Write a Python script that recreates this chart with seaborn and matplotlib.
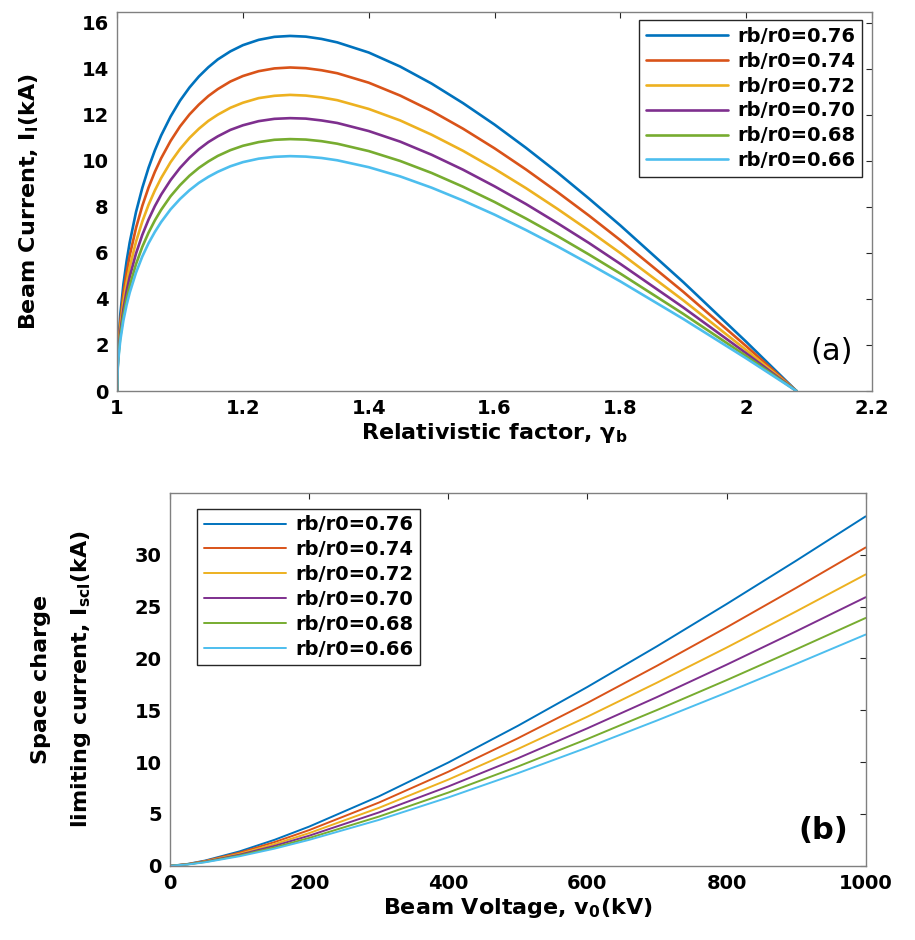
import matplotlib
matplotlib.use("Agg")
import matplotlib.pyplot as plt
import pandas as pd
import seaborn as sns

# ---------------- data ----------------
labels = ["rb/r0=0.76", "rb/r0=0.74", "rb/r0=0.72", "rb/r0=0.70", "rb/r0=0.68", "rb/r0=0.66"]
colors = ["#0072BD", "#D95319", "#EDB120", "#7E2F8E", "#77AC30", "#4DBEEE"]

# (a) beam current vs relativistic factor
gamma_b = [1.0, 1.001, 1.002, 1.005, 1.01, 1.015, 1.02, 1.03, 1.04, 1.05, 1.06, 1.07,
           1.085, 1.1, 1.115, 1.13, 1.145, 1.16, 1.18, 1.2, 1.225, 1.25, 1.275, 1.3,
           1.325, 1.35, 1.4, 1.45, 1.5, 1.55, 1.6, 1.65, 1.7, 1.75, 1.8, 1.9, 2.0, 2.08]
I_076 = [0, 1.49, 2.10, 3.31, 4.64, 5.63, 6.45, 7.77, 8.82, 9.70, 10.45, 11.10,
         11.92, 12.61, 13.18, 13.66, 14.06, 14.40, 14.75, 15.02, 15.25, 15.38, 15.42, 15.39,
         15.29, 15.14, 14.70, 14.09, 13.35, 12.50, 11.57, 10.56, 9.49, 8.36, 7.19, 4.73, 2.14, 0]
I_074 = [0, 1.36, 1.92, 3.01, 4.23, 5.13, 5.88, 7.08, 8.04, 8.84, 9.52, 10.11,
         10.86, 11.49, 12.01, 12.44, 12.81, 13.11, 13.44, 13.68, 13.89, 14.01, 14.05, 14.02,
         13.93, 13.80, 13.39, 12.83, 12.16, 11.39, 10.54, 9.62, 8.64, 7.62, 6.55, 4.31, 1.95, 0]
I_072 = [0, 1.24, 1.75, 2.76, 3.87, 4.70, 5.38, 6.48, 7.36, 8.09, 8.71, 9.25,
         9.94, 10.51, 10.99, 11.39, 11.73, 12.00, 12.30, 12.52, 12.72, 12.82, 12.86, 12.83,
         12.75, 12.63, 12.25, 11.75, 11.13, 10.43, 9.65, 8.81, 7.91, 6.97, 5.99, 3.94, 1.78, 0]
I_070 = [0, 1.14, 1.62, 2.54, 3.56, 4.33, 4.96, 5.97, 6.78, 7.45, 8.03, 8.53,
         9.16, 9.69, 10.13, 10.50, 10.81, 11.06, 11.34, 11.54, 11.72, 11.82, 11.85, 11.83,
         11.75, 11.64, 11.29, 10.83, 10.26, 9.61, 8.89, 8.12, 7.29, 6.43, 5.52, 3.63, 1.64, 0]
I_068 = [0, 1.06, 1.49, 2.35, 3.29, 4.00, 4.57, 5.51, 6.26, 6.88, 7.41, 7.87,
         8.46, 8.94, 9.35, 9.69, 9.97, 10.21, 10.46, 10.65, 10.81, 10.91, 10.94, 10.92,
         10.85, 10.74, 10.42, 9.99, 9.47, 8.87, 8.21, 7.49, 6.73, 5.93, 5.10, 3.35, 1.52, 0]
I_066 = [0, 0.99, 1.39, 2.19, 3.07, 3.73, 4.27, 5.14, 5.84, 6.42, 6.91, 7.34,
         7.89, 8.34, 8.72, 9.04, 9.30, 9.52, 9.76, 9.94, 10.09, 10.17, 10.20, 10.18,
         10.12, 10.02, 9.72, 9.32, 8.83, 8.27, 7.66, 6.99, 6.28, 5.53, 4.76, 3.13, 1.42, 0]

# (b) space charge limiting current vs beam voltage
V0 = [0, 25, 50, 100, 150, 200, 300, 400, 500, 600, 700, 800, 900, 1000]
Isc_076 = [0, 0.18, 0.50, 1.39, 2.50, 3.78, 6.69, 9.96, 13.50, 17.25, 21.17, 25.24, 29.42, 33.70]
Isc_074 = [0, 0.16, 0.46, 1.27, 2.28, 3.44, 6.09, 9.07, 12.30, 15.71, 19.29, 22.99, 26.80, 30.70]
Isc_072 = [0, 0.15, 0.42, 1.16, 2.09, 3.15, 5.58, 8.31, 11.26, 14.38, 17.66, 21.04, 24.53, 28.10]
Isc_070 = [0, 0.14, 0.39, 1.07, 1.92, 2.90, 5.14, 7.65, 10.37, 13.26, 16.27, 19.39, 22.61, 25.90]
Isc_068 = [0, 0.13, 0.36, 0.99, 1.77, 2.68, 4.74, 7.06, 9.57, 12.23, 15.02, 17.90, 20.87, 23.90]
Isc_066 = [0, 0.12, 0.33, 0.92, 1.65, 2.50, 4.42, 6.59, 8.93, 11.41, 14.01, 16.70, 19.47, 22.30]

top_series = [I_076, I_074, I_072, I_070, I_068, I_066]
bot_series = [Isc_076, Isc_074, Isc_072, Isc_070, Isc_068, Isc_066]

df_a = pd.concat([pd.DataFrame({"gamma": gamma_b, "I": s, "ratio": lab})
                  for s, lab in zip(top_series, labels)], ignore_index=True)
df_b = pd.concat([pd.DataFrame({"V": V0, "I": s, "ratio": lab})
                  for s, lab in zip(bot_series, labels)], ignore_index=True)

# ---------------- style ----------------
sns.set_style("white")
plt.rcParams["font.family"] = ["DejaVu Sans"]
plt.rcParams["mathtext.default"] = "regular"
plt.rcParams["text.color"] = "black"
plt.rcParams["axes.labelcolor"] = "black"
edge = "#262626"

fig = plt.figure(figsize=(9.15, 9.40), dpi=100)
ax1 = fig.add_axes([0.128, 0.584, 0.825, 0.403])
ax2 = fig.add_axes([0.186, 0.079, 0.760, 0.397])

tick_fs = 14
lab_fs = 16
leg_fs = 14

legend_kw = dict(frameon=True, fancybox=False, edgecolor=edge, framealpha=1,
                 handlelength=4.2, labelspacing=0.3, borderpad=0.35,
                 handletextpad=0.5, borderaxespad=0, fontsize=leg_fs)

# ---- (a)
sns.lineplot(data=df_a, x="gamma", y="I", hue="ratio", hue_order=labels,
             palette=colors, linewidth=1.9, ax=ax1, sort=False, estimator=None)
ax1.set_xlim(1, 2.2)
ax1.set_ylim(0, 16.45)
ax1.set_xticks([1, 1.2, 1.4, 1.6, 1.8, 2, 2.2])
ax1.set_xticklabels(["1", "1.2", "1.4", "1.6", "1.8", "2", "2.2"])
ax1.set_yticks(range(0, 17, 2))
ax1.set_xlabel(r"Relativistic factor, $\gamma_{b}$", fontsize=lab_fs, fontweight="heavy",
               labelpad=2, color="black")
ax1.set_ylabel(r"Beam Current, $I_{l}$(kA)", fontsize=lab_fs, fontweight="heavy",
               labelpad=29, color="black")
h, l = ax1.get_legend_handles_labels()
leg1 = ax1.legend(h, l, loc="upper right", bbox_to_anchor=(0.987, 0.979), **legend_kw)
for t in leg1.get_texts():
    t.set_fontweight("heavy")
    t.set_color("black")
ax1.text(0.975, 0.065, "(a)", transform=ax1.transAxes, ha="right", va="bottom",
         fontsize=22, color="black")

# ---- (b)
sns.lineplot(data=df_b, x="V", y="I", hue="ratio", hue_order=labels,
             palette=colors, linewidth=1.4, ax=ax2, sort=False, estimator=None)
ax2.set_xlim(0, 1000)
ax2.set_ylim(0, 36)
ax2.set_xticks(range(0, 1001, 200))
ax2.set_yticks(range(0, 31, 5))
ax2.set_xlabel(r"Beam Voltage, $v_{0}$(kV)", fontsize=lab_fs, fontweight="heavy",
               labelpad=2, color="black")
ax2.set_ylabel("Space charge\n" + r"limiting current, $I_{scl}$(kA)", fontsize=lab_fs,
               fontweight="heavy", labelpad=30, linespacing=2.0, color="black")
h, l = ax2.get_legend_handles_labels()
leg2 = ax2.legend(h, l, loc="upper left", bbox_to_anchor=(0.039, 0.957), **legend_kw)
for t in leg2.get_texts():
    t.set_fontweight("heavy")
    t.set_color("black")
ax2.text(0.975, 0.055, "(b)", transform=ax2.transAxes, ha="right", va="bottom",
         fontsize=22, fontweight="bold", color="black")

for ax in (ax1, ax2):
    ax.tick_params(direction="in", top=True, right=True, length=4, width=0.8,
                   labelsize=tick_fs, colors=edge, labelcolor="black", pad=6)
    for lab in ax.get_xticklabels() + ax.get_yticklabels():
        lab.set_fontweight("heavy")
    for sp in ax.spines.values():
        sp.set_color("#808080")
        sp.set_linewidth(1.0)
    ax.set_facecolor("white")

fig.savefig("out.png", dpi=100, facecolor="white")
